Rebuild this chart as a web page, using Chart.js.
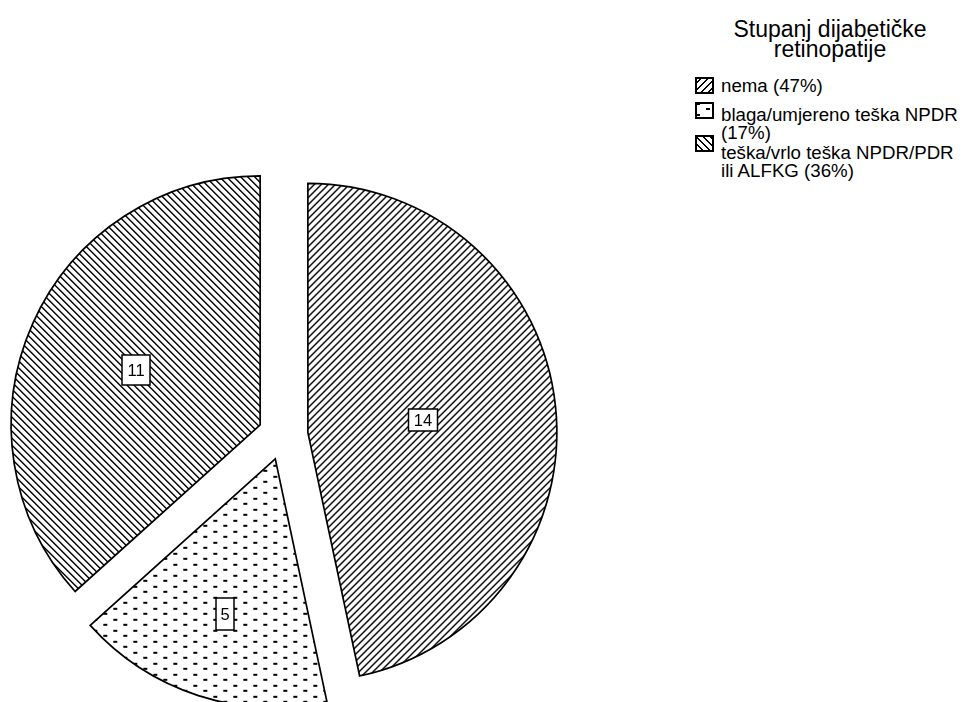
<!DOCTYPE html>
<html>
<head>
<meta charset="utf-8">
<script src="https://cdn.jsdelivr.net/npm/chart.js@4.4.1/dist/chart.umd.min.js"></script>
<style>
  html, body { margin: 0; padding: 0; background: #fff; overflow: hidden; width: 964px; height: 702px; }
  body { position: relative; font-family: "Liberation Sans", Arial, sans-serif; color: #000; }
  #pieBox { position: absolute; left: 0; top: 0; width: 566px; height: 870px; }
  #legendTitle { position: absolute; left: 700px; top: 19px; width: 260px; text-align: center; font-size: 23px; line-height: 20px; }
  .item { position: absolute; left: 695px; }
  .item canvas { position: absolute; left: 0; }
  .item div { position: absolute; left: 26px; white-space: nowrap; font-size: 18.7px; line-height: 17.5px; }
</style>
</head>
<body>
<div id="pieBox"><canvas id="pie"></canvas></div>
<div id="legendTitle"></div>
<div id="legend"></div>
<script>
const legendTitle = ["Stupanj dijabetičke", "retinopatije"];
const categories = [
  ["nema (47%)"],
  ["blaga/umjereno teška NPDR", "(17%)"],
  ["teška/vrlo teška NPDR/PDR", "ili ALFKG (36%)"]
];
const counts = [14, 5, 11];

// black & white fills, drawn pixel by pixel so they stay crisp
function hatch(dir) {
  const n = 7;
  const c = document.createElement("canvas");
  c.width = n; c.height = n;
  const g = c.getContext("2d");
  g.fillStyle = "#fff";
  g.fillRect(0, 0, n, n);
  g.fillStyle = "#000";
  for (let x = 0; x < n; x++) {
    const y = dir > 0 ? n - 1 - x : x;
    g.fillRect(x, y, 1, 1);
    g.fillRect(x, (y + 1) % n, 1, 1);
  }
  return g.createPattern(c, "repeat");
}
function dashes() {
  const c = document.createElement("canvas");
  c.width = 20; c.height = 11;
  const g = c.getContext("2d");
  g.fillStyle = "#fff";
  g.fillRect(0, 0, 20, 11);
  g.fillStyle = "#000";
  g.fillRect(1, 1, 4, 2);
  g.fillRect(11, 6, 4, 2);
  return g.createPattern(c, "repeat");
}
const fills = [hatch(1), dashes(), hatch(-1)];

const explode = 25;
const labelBoxes = [[29, 22], [18, 32], [28, 30]];

const explodePlugin = {
  id: "explode",
  beforeDatasetDraw(chart, args) {
    const ctx = chart.ctx;
    args.meta.data.forEach(arc => {
      const mid = (arc.startAngle + arc.endAngle) / 2;
      ctx.save();
      ctx.translate(Math.cos(mid) * explode, Math.sin(mid) * explode);
      arc.draw(ctx);
      ctx.restore();
    });
    return false;
  },
  afterDatasetsDraw(chart) {
    const ctx = chart.ctx;
    const meta = chart.getDatasetMeta(0);
    ctx.save();
    ctx.font = "16.5px 'Liberation Sans', Arial, sans-serif";
    ctx.textAlign = "center";
    ctx.textBaseline = "middle";
    meta.data.forEach((arc, i) => {
      const mid = (arc.startAngle + arc.endAngle) / 2;
      const half = (arc.endAngle - arc.startAngle) / 2;
      // label at the slice centroid
      const d = 2 * arc.outerRadius * Math.sin(half) / (3 * half) * 1.03 + explode;
      const x = Math.round(arc.x + Math.cos(mid) * d);
      const y = Math.round(arc.y + Math.sin(mid) * d);
      const [w, h] = labelBoxes[i];
      ctx.fillStyle = "#fff";
      ctx.fillRect(x - w / 2, y - h / 2, w, h);
      ctx.strokeStyle = "#000";
      ctx.lineWidth = 1.5;
      ctx.strokeRect(x - w / 2, y - h / 2, w, h);
      ctx.fillStyle = "#000";
      ctx.fillText(String(counts[i]), x, y + 1);
    });
    ctx.restore();
  }
};

new Chart(document.getElementById("pie"), {
  type: "pie",
  data: {
    labels: categories.map(c => c.join(" ")),
    datasets: [{
      data: counts,
      backgroundColor: fills,
      borderColor: "#000",
      borderWidth: 1.7,
      borderJoinStyle: "miter"
    }]
  },
  options: {
    responsive: true,
    maintainAspectRatio: false,
    animation: false,
    radius: 249,
    layout: { padding: 0 },
    plugins: {
      legend: { display: false },
      tooltip: { enabled: false }
    }
  },
  plugins: [explodePlugin]
});

// legend on the right
document.getElementById("legendTitle").innerHTML = legendTitle.join("<br>");
const itemTops = [[77, 77], [102, 106], [135, 144]];
const legend = document.getElementById("legend");
categories.forEach((lines, i) => {
  const item = document.createElement("div");
  item.className = "item";
  item.style.top = "0px";
  const sw = document.createElement("canvas");
  sw.width = 19; sw.height = 17;
  sw.style.top = itemTops[i][0] + "px";
  const g = sw.getContext("2d");
  g.fillStyle = fills[i];
  g.fillRect(0, 0, 19, 17);
  g.strokeStyle = "#000";
  g.lineWidth = 2;
  g.strokeRect(1, 1, 17, 15);
  const txt = document.createElement("div");
  txt.style.top = itemTops[i][1] + "px";
  txt.innerHTML = lines.join("<br>");
  item.appendChild(sw);
  item.appendChild(txt);
  legend.appendChild(item);
});
</script>
</body>
</html>
